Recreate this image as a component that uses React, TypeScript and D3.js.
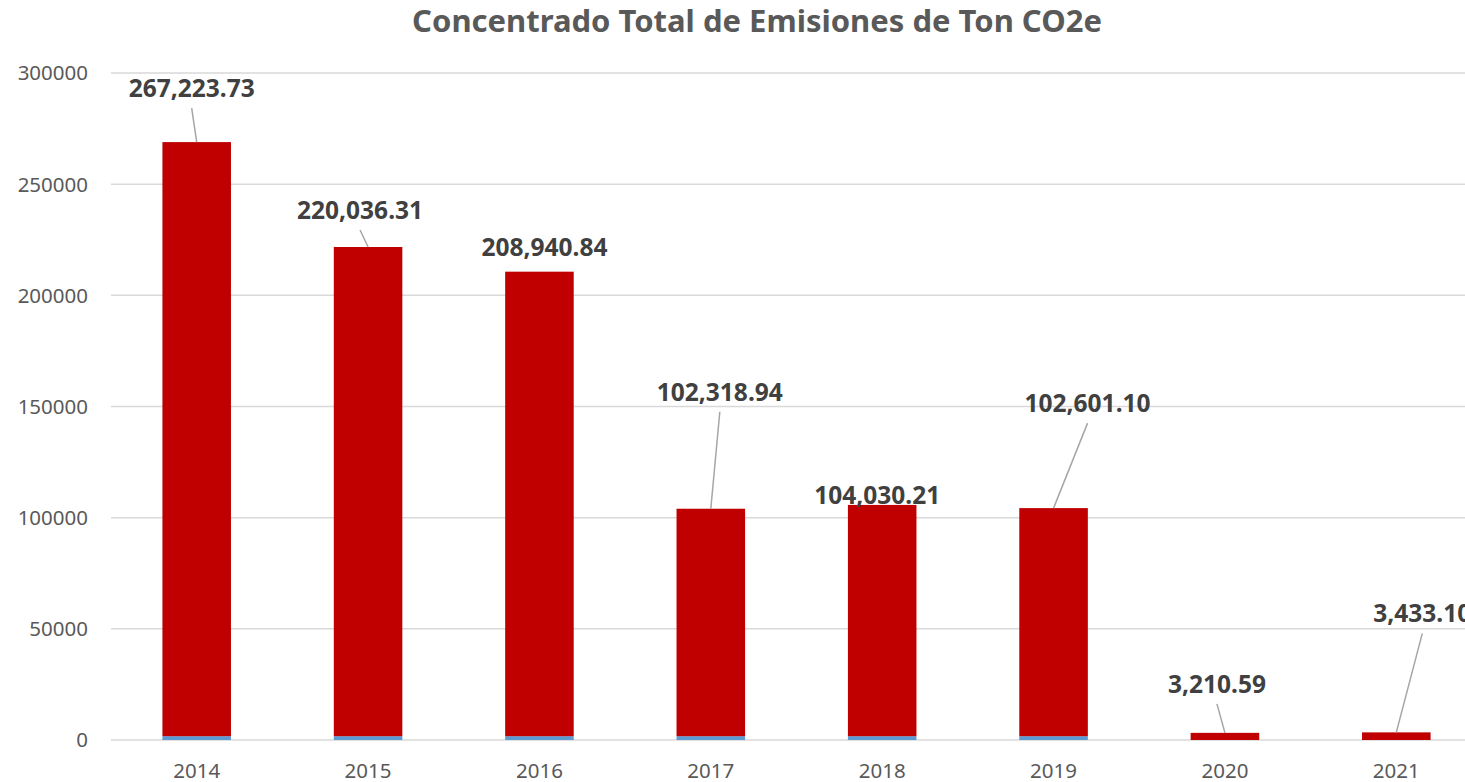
import React from 'react';
import * as d3 from 'd3';

const years = ['2014', '2015', '2016', '2017', '2018', '2019', '2020', '2021'];
// small blue series at the bottom of each bar
const baseValues = [1700, 1700, 1700, 1700, 1700, 1700, 0, 0];
// red series, also the value shown in each label
const totalValues = [267223.73, 220036.31, 208940.84, 102318.94, 104030.21, 102601.1, 3210.59, 3433.1];
const yTicks = [0, 50000, 100000, 150000, 200000, 250000, 300000];

// hand-placed data labels (offset from bar top centre), like Excel does it
const labelOffsets: [number, number, boolean][] = [
  [-5, -45, true],
  [-8, -28, true],
  [5, -16, false],
  [9, -108, true],
  [-5, -1, false],
  [34, -96, true],
  [-8, -40, true],
  [26, -110, true],
];

const W = 1465;
const H = 782;
const fmt = d3.format(',.2f');
const font = '"Noto Sans", "Open Sans", sans-serif';

export default function App() {
  const x = d3.scaleBand<string>()
    .domain(years)
    .range([111, 1482])
    .paddingInner(0.6)
    .paddingOuter(0.3);

  const y = d3.scaleLinear()
    .domain([0, 300000])
    .range([740, 73]);

  return (
    <svg width={W} height={H} style={{ position: 'absolute', left: 0, top: 0, display: 'block' }}>
      <rect width={W} height={H} fill="#fff" />
      <text x={757} y={32} textAnchor="middle" fontFamily={font} fontWeight="bold" fontSize={31} fill="#595959">
        Concentrado Total de Emisiones de Ton CO2e
      </text>

      {yTicks.map(t => (
        <g key={t}>
          <line x1={111} x2={W} y1={y(t)} y2={y(t)} stroke="#D9D9D9" strokeWidth={1.5} />
          <text x={88} y={y(t)} dy="0.36em" textAnchor="end" fontFamily={font} fontSize={20.5} fill="#595959">
            {t}
          </text>
        </g>
      ))}

      {years.map((yr, i) => {
        const bx = x(yr)!;
        const bw = x.bandwidth();
        const base = baseValues[i];
        const top = base + totalValues[i];
        const cx = bx + bw / 2;
        const [dx, dy, leader] = labelOffsets[i];
        const lx = cx + dx;
        const ly = y(top) + dy;
        return (
          <g key={yr}>
            {base > 0 && (
              <rect x={bx} y={y(base)} width={bw} height={y(0) - y(base)} fill="#5B9BD5" />
            )}
            <rect x={bx} y={y(top)} width={bw} height={y(base) - y(top)} fill="#C00000" />
            {leader && (
              <line x1={lx} y1={ly + 11} x2={cx} y2={y(top)} stroke="#A6A6A6" strokeWidth={1.5} />
            )}
            <text x={lx} y={ly} textAnchor="middle" fontFamily={font} fontWeight="bold" fontSize={24.5} fill="#404040">
              {fmt(totalValues[i])}
            </text>
            <text x={cx} y={778} textAnchor="middle" fontFamily={font} fontSize={20.5} fill="#595959">
              {yr}
            </text>
          </g>
        );
      })}
    </svg>
  );
}
